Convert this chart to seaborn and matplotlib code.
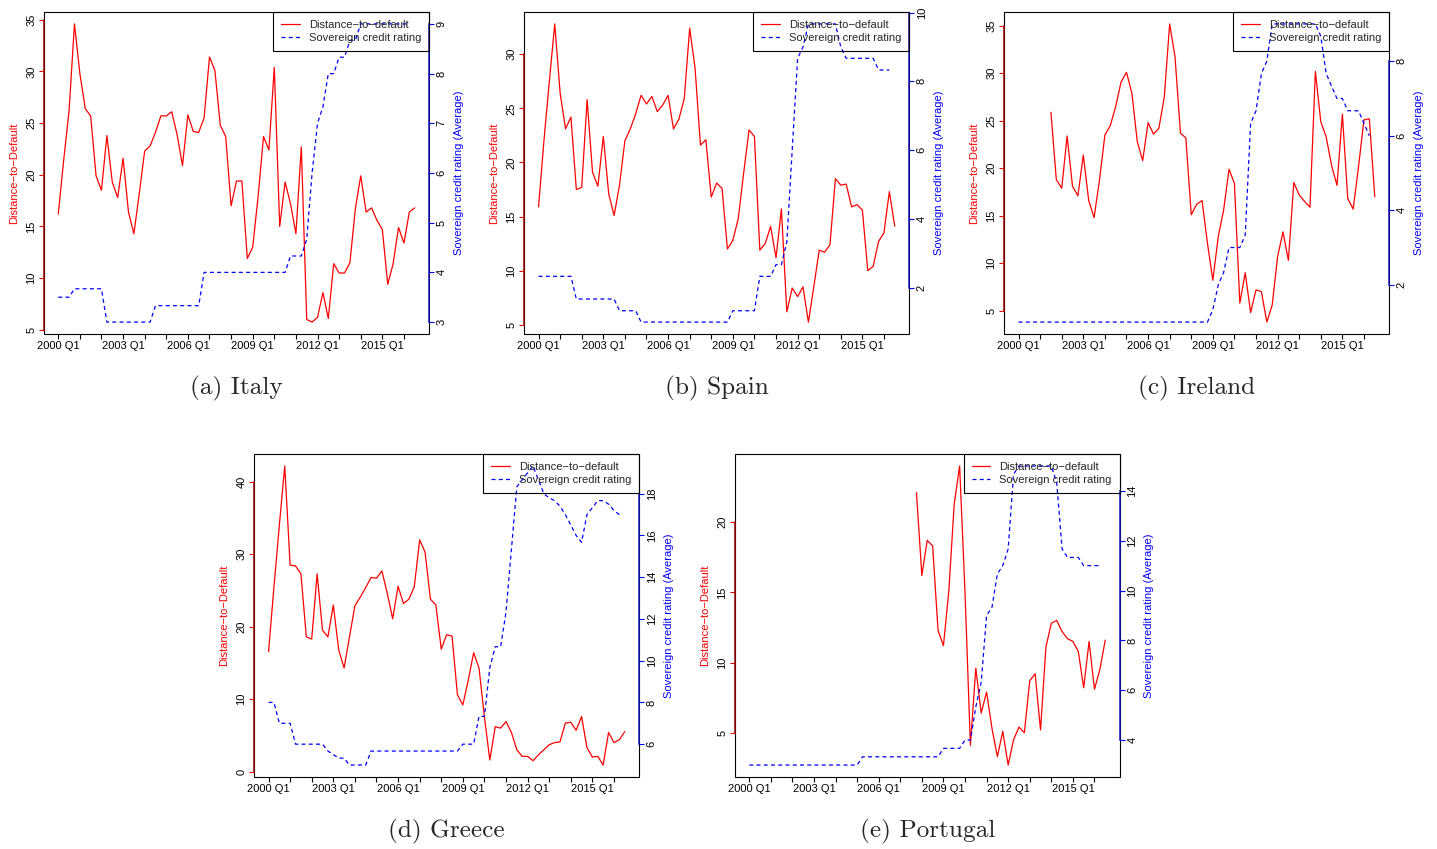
import numpy as np
import matplotlib
matplotlib.use("Agg")
import matplotlib.pyplot as plt
import seaborn as sns

nan = np.nan

# ---------------- data ----------------
quarters = list(range(67))          # 2000 Q1 ... 2016 Q3 (quarter index)
xtick_pos = list(range(0, 65, 4))
xtick_labels = ["2000 Q1", "", "", "2003 Q1", "", "", "2006 Q1", "", "",
                "2009 Q1", "", "", "2012 Q1", "", "", "2015 Q1", ""]

italy_dd = [16.2, 21.4, 26.2, 34.6, 29.8, 26.4, 25.7, 19.9, 18.5, 23.8,
            19.3, 17.8, 21.6, 16.4, 14.3, 18.2, 22.3, 22.8, 24.1, 25.7,
            25.7, 26.1, 23.9, 20.9, 25.8, 24.2, 24.1, 25.5, 31.4, 30.1,
            24.8, 23.7, 17.0, 19.4, 19.4, 11.9, 13.0, 17.9, 23.7, 22.4,
            30.4, 15.0, 19.3, 17.2, 14.3, 22.7, 6.0, 5.75, 6.2, 8.6,
            6.1, 11.4, 10.5, 10.5, 11.5, 16.7, 19.9, 16.4, 16.8, 15.6,
            14.7, 9.4, 11.4, 14.9, 13.4, 16.4, 16.8]
italy_rating = [3.5, 3.5, 3.5, 3.67, 3.67, 3.67, 3.67, 3.67, 3.67, 3.0,
                3.0, 3.0, 3.0, 3.0, 3.0, 3.0, 3.0, 3.0, 3.33, 3.33,
                3.33, 3.33, 3.33, 3.33, 3.33, 3.33, 3.33, 4.0, 4.0, 4.0,
                4.0, 4.0, 4.0, 4.0, 4.0, 4.0, 4.0, 4.0, 4.0, 4.0,
                4.0, 4.0, 4.0, 4.33, 4.33, 4.33, 4.67, 6.0, 7.0, 7.33,
                8.0, 8.0, 8.33, 8.33, 8.67, 8.67, 9.0, 9.0, 9.0, 9.0,
                9.0, 9.0, 9.0, 9.0, 9.0, 9.0]

spain_dd = [15.9, 22.0, 27.5, 32.8, 26.4, 23.1, 24.2, 17.5, 17.7, 25.8,
            19.1, 17.8, 22.4, 17.1, 15.1, 17.9, 22.0, 23.1, 24.5, 26.2,
            25.4, 26.1, 24.7, 25.3, 26.2, 23.1, 24.0, 25.9, 32.4, 28.7,
            21.6, 22.1, 16.8, 18.1, 17.6, 12.0, 12.8, 14.8, 19.0, 23.0,
            22.4, 11.9, 12.5, 14.1, 11.2, 15.7, 6.2, 8.4, 7.6, 8.5,
            5.25, 8.5, 11.9, 11.7, 12.4, 18.5, 17.9, 18.0, 15.9, 16.1,
            15.6, 10.0, 10.4, 12.7, 13.5, 17.3, 14.1]
spain_rating = [2.33, 2.33, 2.33, 2.33, 2.33, 2.33, 2.33, 1.67, 1.67, 1.67,
                1.67, 1.67, 1.67, 1.67, 1.67, 1.33, 1.33, 1.33, 1.33, 1.0,
                1.0, 1.0, 1.0, 1.0, 1.0, 1.0, 1.0, 1.0, 1.0, 1.0,
                1.0, 1.0, 1.0, 1.0, 1.0, 1.0, 1.33, 1.33, 1.33, 1.33,
                1.33, 2.33, 2.33, 2.33, 2.67, 2.67, 3.33, 6.0, 8.67, 9.0,
                9.67, 9.67, 9.67, 9.67, 9.67, 9.67, 9.0, 8.67, 8.67, 8.67,
                8.67, 8.67, 8.67, 8.33, 8.33, 8.33]

ireland_dd = [nan, nan, nan, nan, nan, nan, 25.9, 18.8, 17.9, 23.4,
              18.1, 17.1, 21.4, 16.6, 14.8, 18.8, 23.5, 24.5, 26.5, 29.1,
              30.1, 27.9, 22.8, 20.8, 24.8, 23.6, 24.2, 27.5, 35.2, 31.7,
              23.7, 23.2, 15.1, 16.2, 16.6, 12.1, 8.2, 12.8, 15.6, 19.9,
              18.4, 5.8, 9.0, 4.8, 7.2, 7.0, 3.8, 5.6, 10.7, 13.3,
              10.3, 18.5, 17.2, 16.5, 15.9, 30.2, 24.9, 23.3, 20.3, 18.2,
              25.7, 16.8, 15.7, 20.2, 25.1, 25.2, 17.0]
ireland_rating = [1.0, 1.0, 1.0, 1.0, 1.0, 1.0, 1.0, 1.0, 1.0, 1.0,
                  1.0, 1.0, 1.0, 1.0, 1.0, 1.0, 1.0, 1.0, 1.0, 1.0,
                  1.0, 1.0, 1.0, 1.0, 1.0, 1.0, 1.0, 1.0, 1.0, 1.0,
                  1.0, 1.0, 1.0, 1.0, 1.0, 1.0, 1.33, 2.0, 2.33, 3.0,
                  3.0, 3.0, 3.33, 6.33, 6.67, 7.67, 8.0, 9.0, 9.0, 9.0,
                  9.0, 9.0, 9.0, 9.0, 9.0, 9.0, 8.67, 7.67, 7.33, 7.0,
                  7.0, 6.67, 6.67, 6.67, 6.33, 6.0]

greece_dd = [16.55, 25.5, 34.0, 42.2, 28.5, 28.4, 27.3, 18.6, 18.3, 27.3,
             19.5, 18.6, 23.0, 16.8, 14.3, 18.6, 22.9, 24.1, 25.4, 26.8,
             26.7, 27.7, 24.6, 21.1, 25.6, 23.2, 23.8, 25.5, 32.0, 30.3,
             23.8, 23.0, 16.9, 18.9, 18.7, 10.6, 9.2, 12.6, 16.4, 14.3,
             7.5, 1.6, 6.2, 6.0, 6.9, 5.4, 3.0, 2.1, 2.1, 1.5,
             2.3, 3.0, 3.7, 4.0, 4.1, 6.7, 6.8, 5.7, 7.6, 3.3,
             2.0, 2.1, 0.9, 5.4, 4.0, 4.4, 5.5]
greece_rating = [8.0, 8.0, 7.0, 7.0, 7.0, 6.0, 6.0, 6.0, 6.0, 6.0,
                 6.0, 5.67, 5.5, 5.33, 5.33, 5.0, 5.0, 5.0, 5.0, 5.67,
                 5.67, 5.67, 5.67, 5.67, 5.67, 5.67, 5.67, 5.67, 5.67, 5.67,
                 5.67, 5.67, 5.67, 5.67, 5.67, 5.67, 6.0, 6.0, 6.0, 7.33,
                 7.33, 9.67, 10.67, 10.67, 12.33, 15.33, 18.33, 18.67, 19.0, 19.33,
                 18.67, 18.0, 17.8, 17.67, 17.4, 17.0, 16.5, 16.0, 15.67, 17.0,
                 17.33, 17.67, 17.67, 17.5, 17.2, 17.0]

portugal_dd = [nan] * 31 + [22.1, 16.2, 18.7, 18.3, 12.3, 11.2, 15.1, 21.3, 24.0,
                            15.0, 4.1, 9.6, 6.4, 7.9, 5.3, 3.3, 5.1, 2.7, 4.5,
                            5.4, 5.0, 8.7, 9.2, 5.2, 11.1, 12.8, 13.0, 12.2, 11.7,
                            11.5, 10.8, 8.2, 11.5, 8.1, 9.5, 11.6]
portugal_rating = [3.0, 3.0, 3.0, 3.0, 3.0, 3.0, 3.0, 3.0, 3.0, 3.0,
                   3.0, 3.0, 3.0, 3.0, 3.0, 3.0, 3.0, 3.0, 3.0, 3.0,
                   3.0, 3.33, 3.33, 3.33, 3.33, 3.33, 3.33, 3.33, 3.33, 3.33,
                   3.33, 3.33, 3.33, 3.33, 3.33, 3.33, 3.67, 3.67, 3.67, 3.67,
                   4.0, 4.0, 5.33, 6.33, 9.0, 9.33, 10.67, 11.0, 11.67, 14.67,
                   15.0, 15.0, 15.0, 15.0, 15.0, 15.0, 15.0, 14.33, 11.67, 11.33,
                   11.33, 11.33, 11.0, 11.0, 11.0, 11.0]

italy_lticks = [5, 10, 15, 20, 25, 30, 35]
italy_rticks = [3, 4, 5, 6, 7, 8, 9]
spain_lticks = [5, 10, 15, 20, 25, 30]
spain_rticks = [2, 4, 6, 8, 10]
ireland_lticks = [5, 10, 15, 20, 25, 30, 35]
ireland_rticks = [2, 4, 6, 8]
greece_lticks = [0, 10, 20, 30, 40]
greece_rticks = [6, 8, 10, 12, 14, 16, 18]
portugal_lticks = [5, 10, 15, 20]
portugal_rticks = [4, 6, 8, 10, 12, 14]

captions = ["(a) Italy", "(b) Spain", "(c) Ireland", "(d) Greece", "(e) Portugal"]
legend_labels = ["Distance\u2212to\u2212default", "Sovereign credit rating"]
left_label = "Distance\u2212to\u2212Default"
right_label = "Sovereign credit rating (Average)"

# ---------------- style ----------------
sns.set_theme(style="ticks")
plt.rcParams["font.family"] = ["Liberation Sans", "DejaVu Sans"]
plt.rcParams["axes.xmargin"] = 0.04
plt.rcParams["axes.ymargin"] = 0.04

W, H = 1437, 849
fig = plt.figure(figsize=(W / 100, H / 100), dpi=100)
fig.patch.set_facecolor("white")

FS = 8
RED_SPINE = "#9a0000"
BLUE_SPINE = "#1515b5"


def px_rect(left, right, top, bottom):
    return [left / W, 1 - bottom / H, (right - left) / W, (bottom - top) / H]


def panel(rect, dd, rating, lticks, rticks, caption):
    ax = fig.add_axes(rect)
    sns.lineplot(x=quarters, y=dd, ax=ax, color="red", linewidth=0.9, legend=False)
    red_line = ax.lines[-1]
    ax2 = ax.twinx()
    sns.lineplot(x=quarters[:len(rating)], y=rating, ax=ax2, color="blue",
                 linewidth=0.9, legend=False)
    blue_line = ax2.lines[-1]
    blue_line.set_linestyle((0, (3.2, 2.6)))

    # frame
    ax.patch.set_edgecolor("black")
    ax.patch.set_linewidth(0.8)
    for s in ["top", "bottom", "right"]:
        ax.spines[s].set_visible(False)
    for s in ["top", "bottom", "left"]:
        ax2.spines[s].set_visible(False)
    ax.spines["left"].set_color(RED_SPINE)
    ax.spines["left"].set_linewidth(1.1)
    ax2.spines["right"].set_color(BLUE_SPINE)
    ax2.spines["right"].set_linewidth(1.1)

    # x axis
    ax.set_xticks(xtick_pos, labels=xtick_labels, fontsize=FS)
    ax.tick_params(axis="x", bottom=True, length=3.6, width=0.8, color="black",
                   labelcolor="black", pad=1.5)

    # y axes
    ax.set_yticks(lticks, labels=[str(t) for t in lticks], rotation=90,
                  va="center", fontsize=FS)
    ax.tick_params(axis="y", left=True, length=3.6, width=0.8, color="red",
                   labelcolor="black", pad=2)
    ax2.set_yticks(rticks, labels=[str(t) for t in rticks], rotation=90,
                   va="center", fontsize=FS)
    ax2.tick_params(axis="y", right=True, length=3.6, width=0.8, color="blue",
                    labelcolor="black", pad=2)
    ax.spines["left"].set_bounds(lticks[0], lticks[-1])
    ax2.spines["right"].set_bounds(rticks[0], rticks[-1])

    ax.set_xlabel("")
    ax.set_ylabel(left_label, color="red", fontsize=FS, labelpad=5)
    ax2.set_ylabel(right_label, color="blue", fontsize=FS, labelpad=5)

    leg = ax2.legend([red_line, blue_line], legend_labels, loc="upper right",
                     bbox_to_anchor=(1, 1), borderaxespad=0, fancybox=False,
                     facecolor="none", edgecolor="black", framealpha=1,
                     fontsize=FS, handlelength=1.7, handletextpad=0.8,
                     borderpad=0.7, labelspacing=0.3)
    leg.get_frame().set_linewidth(0.8)

    cx = rect[0] + rect[2] / 2
    cy = rect[1] - 54 / H
    fig.text(cx, cy, caption, ha="center", va="center", fontsize=18.2,
             family="cmr10")
    return ax, ax2


panel(px_rect(44, 429, 12, 334), italy_dd, italy_rating, italy_lticks, italy_rticks, captions[0])
panel(px_rect(524.3, 909, 12, 334), spain_dd, spain_rating, spain_lticks, spain_rticks, captions[1])
panel(px_rect(1004.3, 1389, 12, 334), ireland_dd, ireland_rating, ireland_lticks, ireland_rticks, captions[2])
panel(px_rect(254.3, 639, 454, 777), greece_dd, greece_rating, greece_lticks, greece_rticks, captions[3])
panel(px_rect(735, 1119.5, 454, 777), portugal_dd, portugal_rating, portugal_lticks, portugal_rticks, captions[4])

fig.savefig("out.png", dpi=100, facecolor="white")
